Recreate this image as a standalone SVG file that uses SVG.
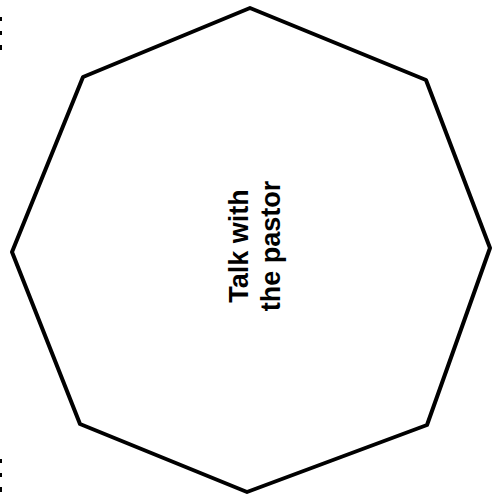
<svg xmlns="http://www.w3.org/2000/svg" width="492" height="494" viewBox="0 0 492 494">
<style>
.shape{fill:#fff;stroke:#000;stroke-width:4;stroke-linejoin:round}
.lbl{font-family:"Liberation Sans",Arial,sans-serif;font-weight:bold;font-size:27px;fill:#000;text-anchor:middle}
.mark{fill:#000}
</style>
<rect width="492" height="494" fill="#fff"/>
<g id="edge-marks">
<rect class="mark" x="0" y="17" width="2" height="4"/>
<rect class="mark" x="0" y="31" width="2" height="4"/>
<rect class="mark" x="0" y="45" width="2" height="5"/>
<rect class="mark" x="0" y="459" width="2" height="4"/>
<rect class="mark" x="0" y="473" width="2" height="4"/>
<rect class="mark" x="0" y="487" width="2" height="5"/>
</g>
<g id="connectors"></g>
<g id="node-pastor">
<polygon class="shape" points="250,8 426,80 490,248 427,425 247,492 80,424 12,252 83,77"/>
<text class="lbl" transform="translate(248 246) rotate(-90)">Talk with</text>
<text class="lbl" transform="translate(280 246) rotate(-90)">the pastor</text>
</g>
</svg>
